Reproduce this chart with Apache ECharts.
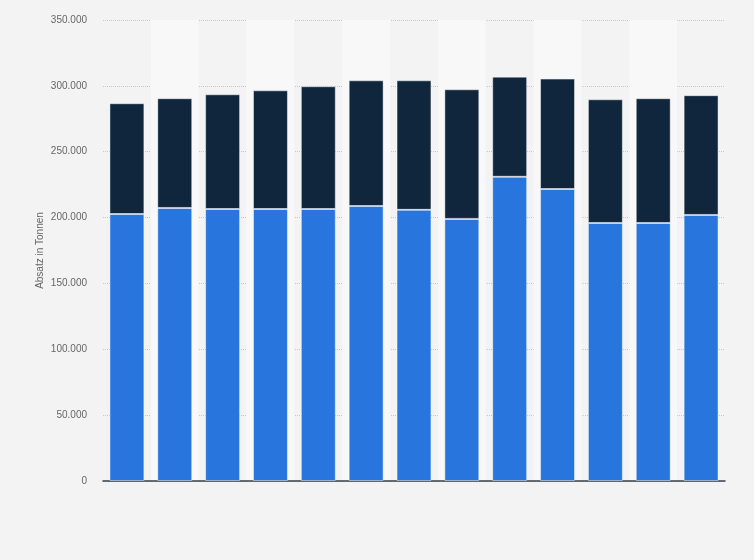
<!DOCTYPE html>
<html>
<head>
<meta charset="utf-8">
<script src="https://cdn.jsdelivr.net/npm/echarts@6/dist/echarts.min.js"></script>
<style>
  html, body { margin: 0; padding: 0; background: #f3f3f3; }
  #chart { width: 754px; height: 560px; }
</style>
</head>
<body>
<div id="chart"></div>
<script>
// 13 Jahre, keine Beschriftung sichtbar
const categories = ['1', '2', '3', '4', '5', '6', '7', '8', '9', '10', '11', '12', '13'];
// unterer Teil (blau)
const lowerValues = [202700, 207300, 206500, 206500, 206500, 208800, 205900, 199000, 231000, 221700, 195900, 195900, 202000];
// oberer Teil (dunkel), Gesamt minus unterer Teil
const upperValues = [84100, 83300, 87100, 90100, 93200, 95400, 98300, 98400, 76000, 83800, 93900, 94700, 90900];

function fmt(v) {
    return String(v).replace(/\B(?=(\d{3})+(?!\d))/g, '.');
}

let myChart = echarts.init(document.getElementById('chart'));
option = {
    backgroundColor: '#f3f3f3',
    animation: false,
    grid: {
        left: 103,
        right: 29,
        top: 20,
        bottom: 79
    },
    xAxis: {
        type: 'category',
        data: categories,
        axisLine: { lineStyle: { color: '#3a3f47', width: 1.5 } },
        axisTick: { show: false },
        axisLabel: { show: false },
        splitArea: {
            show: true,
            areaStyle: { color: ['rgba(0,0,0,0)', '#f8f8f8'] }
        }
    },
    yAxis: {
        type: 'value',
        min: 0,
        max: 350000,
        interval: 50000,
        name: 'Absatz in Tonnen',
        nameLocation: 'middle',
        nameGap: 58,
        nameMoveOverlap: false,
        nameTextStyle: { color: '#666', fontSize: 10, fontFamily: 'Liberation Sans' },
        axisLine: { show: false },
        axisTick: { show: false },
        axisLabel: {
            color: '#666',
            fontSize: 10,
            fontFamily: 'Liberation Sans',
            margin: 16,
            formatter: fmt
        },
        splitLine: {
            lineStyle: { color: '#c8c8c8', type: 'dotted', width: 1 }
        }
    },
    series: [
        {
            name: 'unten',
            type: 'bar',
            stack: 'absatz',
            barCategoryGap: '27%',
            itemStyle: {
                color: '#2876dd',
                borderColor: 'rgba(255,255,255,0.45)',
                borderWidth: 1
            },
            data: lowerValues
        },
        {
            name: 'oben',
            type: 'bar',
            stack: 'absatz',
            itemStyle: {
                color: '#0f263d',
                borderColor: 'rgba(255,255,255,0.45)',
                borderWidth: 1
            },
            data: upperValues
        }
    ]
};
myChart.setOption(option);
</script>
</body>
</html>
